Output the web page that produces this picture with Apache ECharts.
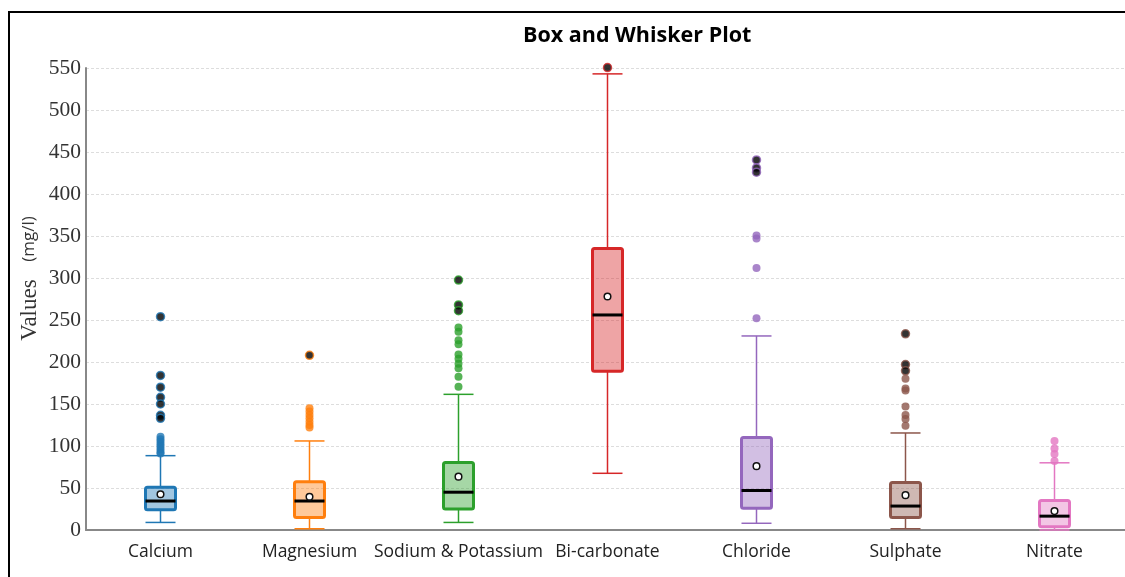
<!DOCTYPE html>
<html>
<head>
<meta charset="utf-8">
<script src="https://cdn.jsdelivr.net/npm/echarts@6/dist/echarts.min.js"></script>
<style>
html,body{margin:0;padding:0;background:#fff;overflow:hidden;width:1125px;height:577px;}
#frame{position:absolute;left:8px;top:11px;width:1200px;height:700px;border-top:2px solid #000;border-left:2px solid #000;}
#chart{position:absolute;left:0;top:0;width:1140px;height:577px;}
</style>
</head>
<body>
<div id="frame"></div>
<div id="chart"></div>
<script>
const categories = ['Calcium', 'Magnesium', 'Sodium & Potassium', 'Bi-carbonate', 'Chloride', 'Sulphate', 'Nitrate'];
const boxMin    = [9, 1.5, 9, 67.5, 8, 1.5, 0];
const boxQ1     = [24, 15, 25, 189, 26, 15, 4];
const boxMedian = [34.5, 34.5, 45, 256, 47, 28.5, 16.5];
const boxQ3     = [51, 57.5, 80.5, 335, 110, 56.5, 35];
const boxMax    = [88.5, 106, 161.5, 543, 231, 115.5, 80];
const boxMean   = [42.5, 39.5, 63.5, 278, 76, 41.5, 22.5];
// outliers beyond 3 IQR (drawn dark) and mild outliers (drawn in series colour)
const extremeOutliers = [
  [254, 184, 170, 158, 150, 136.5, 133],
  [208],
  [297.5, 268, 261],
  [550.5],
  [440.5, 431, 426],
  [233.5, 197, 189.5],
  []
];
const mildOutliers = [
  [111, 108, 105, 102, 99, 96, 93, 91],
  [145, 141, 137, 133, 129, 125, 122],
  [241, 236, 226, 221, 209, 204, 198, 192.5, 182.5, 170.5],
  [],
  [350.5, 347, 312, 252],
  [180, 168.5, 166, 147, 137, 132, 124],
  [106, 97, 90.5, 82]
];
const yTicks = [0, 50, 100, 150, 200, 250, 300, 350, 400, 450, 500, 550];

const colors = ['#1f77b4', '#ff7f0e', '#2ca02c', '#d62728', '#9467bd', '#8c564b', '#e377c2'];
const fills  = ['rgba(31,119,180,0.42)', 'rgba(255,127,14,0.42)', 'rgba(44,160,44,0.42)', 'rgba(214,39,40,0.42)', 'rgba(148,103,189,0.42)', 'rgba(140,86,75,0.42)', 'rgba(227,119,194,0.42)'];

const boxData = categories.map((c, i) => [i, boxMin[i], boxQ1[i], boxMedian[i], boxQ3[i], boxMax[i], boxMean[i]]);

function renderBox(params, api) {
  const i = api.value(0);
  const pMin = api.coord([i, api.value(1)]);
  const pQ1 = api.coord([i, api.value(2)]);
  const pMed = api.coord([i, api.value(3)]);
  const pQ3 = api.coord([i, api.value(4)]);
  const pMax = api.coord([i, api.value(5)]);
  const pMean = api.coord([i, api.value(6)]);
  const x = pMed[0];
  const hw = 15;
  const col = colors[i];
  const thin = {stroke: col, lineWidth: 1.5};
  return {
    type: 'group',
    children: [
      {type: 'line', shape: {x1: x, y1: pMax[1], x2: x, y2: pQ3[1]}, style: thin},
      {type: 'line', shape: {x1: x, y1: pQ1[1], x2: x, y2: pMin[1]}, style: thin},
      {type: 'line', shape: {x1: x - hw, y1: pMax[1], x2: x + hw, y2: pMax[1]}, style: thin},
      {type: 'line', shape: {x1: x - hw, y1: pMin[1], x2: x + hw, y2: pMin[1]}, style: thin},
      {type: 'rect', shape: {x: x - hw, y: pQ3[1], width: 2 * hw, height: pQ1[1] - pQ3[1], r: 2},
        style: {fill: fills[i], stroke: col, lineWidth: 3}},
      {type: 'line', shape: {x1: x - hw, y1: pMed[1], x2: x + hw, y2: pMed[1]}, style: {stroke: '#000', lineWidth: 3}},
      {type: 'circle', shape: {cx: x, cy: pMean[1], r: 3.3}, style: {fill: '#fff', stroke: '#111', lineWidth: 1.5}}
    ]
  };
}

const mildData = [];
const extremeData = [];
categories.forEach((c, i) => {
  mildOutliers[i].forEach(v => mildData.push({value: [i, v], itemStyle: {color: colors[i]}}));
  extremeOutliers[i].forEach(v => extremeData.push({value: [i, v], itemStyle: {color: '#000', borderColor: colors[i], borderWidth: 1.5}}));
});

const chart = echarts.init(document.getElementById('chart'), null, {renderer: 'canvas'});
chart.setOption({
  animation: false,
  backgroundColor: 'transparent',
  title: {
    text: 'Box and Whisker Plot',
    left: 518, top: 20,
    textStyle: {fontFamily: 'Open Sans', fontWeight: 'bold', fontSize: 21.5, color: '#000'}
  },
  graphic: [
    {
      type: 'text', x: 30, y: 310, rotation: Math.PI / 2,
      style: {text: 'Values', align: 'center', verticalAlign: 'middle',
        fontFamily: 'Liberation Serif', fontSize: 23, fill: '#333'}
    },
    {
      type: 'text', x: 29, y: 239, rotation: Math.PI / 2,
      style: {text: '(mg/l)', align: 'center', verticalAlign: 'middle',
        fontFamily: 'Open Sans', fontSize: 17, fill: '#333'}
    }
  ],
  grid: {left: 86, top: 68, width: 1043, height: 462, containLabel: false},
  xAxis: {
    type: 'category',
    data: categories,
    boundaryGap: true,
    axisLine: {lineStyle: {color: '#888', width: 2}},
    axisTick: {alignWithLabel: true, length: 5, lineStyle: {color: '#888', width: 2}},
    axisLabel: {fontFamily: 'Open Sans', fontSize: 17.5, color: '#222', margin: 13, interval: 0},
    splitLine: {show: false}
  },
  yAxis: {
    type: 'value',
    min: 0, max: 550, interval: 50,
    axisLine: {show: true, lineStyle: {color: '#888', width: 2}},
    axisTick: {show: false},
    axisLabel: {
      fontFamily: 'Liberation Serif', fontSize: 21.5, color: '#333', margin: 5,
      formatter: v => yTicks.includes(v) ? String(v) : ''
    },
    splitLine: {show: true, lineStyle: {color: '#ddd', type: [3, 2], width: 1}}
  },
  series: [
    {type: 'custom', renderItem: renderBox, data: boxData, encode: {x: 0, y: [1, 2, 3, 4, 5]}, z: 2, clip: false},
    {type: 'scatter', data: mildData, symbolSize: 8, z: 3, clip: false},
    {type: 'scatter', data: extremeData, symbolSize: 8, z: 4, clip: false}
  ]
});
</script>
</body>
</html>
